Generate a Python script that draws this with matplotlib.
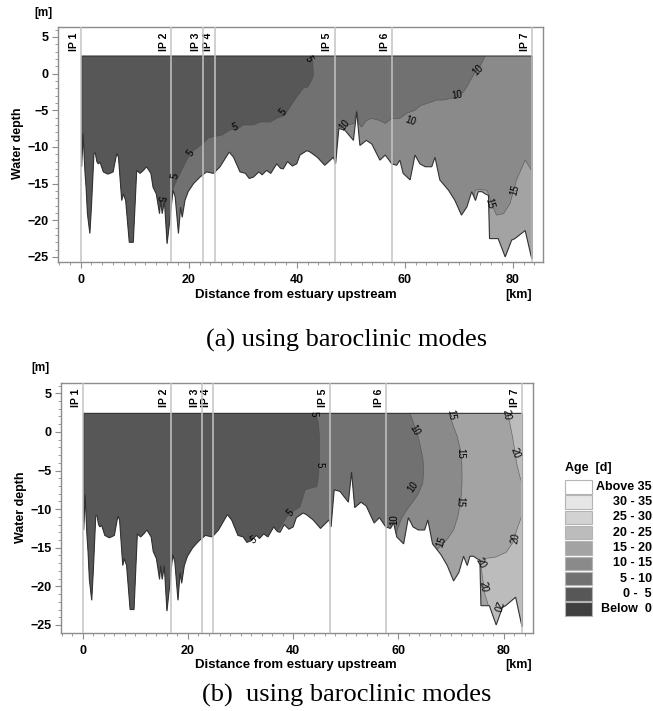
import numpy as np
import matplotlib.pyplot as plt
from matplotlib.patches import Polygon, Rectangle

plt.rcParams['font.family'] = ['Liberation Sans', 'DejaVu Sans']

# river bed profile (km upstream, m)
bed_km = [0.18, 0.45, 0.8, 1.0, 1.25, 1.7, 2.0, 2.46, 2.7, 3.0, 3.26, 3.6, 4.19, 5.0, 5.43, 6.0,
          6.67, 7.0, 7.6, 7.9, 8.33, 9.0, 9.74, 10.37, 11.0, 11.6, 12.2, 13.0, 13.4, 14.0, 14.6,
          14.8, 15.1, 15.5, 16.0, 16.5, 17.1, 17.5, 18.1, 18.5, 18.8, 19.3, 19.9, 20.9, 22.1,
          23.3, 24.6, 25.8, 27.5, 28.3, 29.5, 30.5, 31.2, 32.0, 33.0, 33.6, 34.4, 35.2, 36.3,
          37.0, 37.5, 38.3, 39.2, 40.0, 40.6, 41.9, 42.5, 43.8, 45.2, 46.8, 47.2, 47.8, 48.9,
          50.5, 51.1, 51.7, 52.9, 53.9, 55.4, 56.4, 57.6, 58.5, 59.1, 59.7, 61.0, 61.9, 62.8,
          63.8, 65.0, 65.6, 66.5, 68.1, 69.3, 70.5, 71.5, 72.4, 73.1, 73.6, 74.3, 74.9, 75.5,
          75.7, 77.3, 78.6, 79.8, 80.4, 82.3, 83.5, 83.6]
bed_m = [-12.7, -8.2, -13.5, -15.5, -19.1, -21.8, -18.0, -10.9, -10.8, -12.0, -12.3, -12.1, -13.4,
         -13.7, -13.6, -13.4, -10.9, -11.4, -17.3, -16.4, -17.3, -23.0, -23.0, -13.2, -13.6, -13.2,
         -12.7, -13.6, -15.5, -16.4, -19.1, -17.3, -19.1, -17.3, -23.2, -20.0, -15.9, -16.8, -21.8,
         -18.2, -19.6, -17.3, -16.1, -15.0, -14.1, -13.4, -13.6, -12.7, -10.7, -11.4, -13.4, -13.6,
         -14.3, -14.1, -13.4, -13.8, -13.2, -13.6, -12.3, -12.9, -13.0, -12.0, -12.6, -12.3, -11.1,
         -10.5, -10.7, -11.4, -12.5, -11.4, -12.3, -7.5, -7.7, -9.1, -5.2, -9.8, -9.1, -9.6, -11.8,
         -11.1, -12.3, -12.5, -11.8, -13.6, -14.5, -11.1, -12.3, -12.7, -12.7, -11.4, -14.5, -15.9,
         -17.3, -19.3, -18.2, -16.1, -17.3, -16.1, -16.1, -16.4, -16.6, -22.5, -22.5, -25.0, -22.7,
         -22.5, -21.4, -25.2, -25.2]
surface_m = 2.4

ip_names = ['IP 1', 'IP 2', 'IP 3', 'IP 4', 'IP 5', 'IP 6', 'IP 7']
ip_km = [0.1, 16.7, 22.6, 24.8, 47.0, 57.6, 83.6]

legend_labels = ['Above 35', '30 - 35', '25 - 30', '20 - 25', '15 - 20', '10 - 15', '5 - 10', '0 -  5', 'Below  0']
legend_colors = ['#ffffff', '#e6e6e6', '#d2d2d2', '#bcbcbc', '#a3a3a3', '#8a8a8a', '#717171', '#575757', '#3f3f3f']

# isolines panel (a)
a5_km = [43.2, 42.9, 43.1, 43.0, 42.1, 41.2, 40.0, 38.8, 37.8, 36.3, 35.1, 33.2, 32.0, 30.1, 29.2,
         27.6, 26.1, 24.6, 23.6, 22.7, 21.8, 20.9, 19.9, 19.3, 18.7, 18.1, 17.5, 17.0, 16.8, 16.7]
a5_m = [4.0, 2.4, 0.0, -0.5, -1.8, -2.0, -3.2, -4.5, -5.7, -6.1, -6.6, -6.6, -7.0, -7.0, -7.5,
        -7.7, -8.4, -8.6, -8.8, -9.5, -10.0, -10.5, -11.4, -12.3, -13.2, -14.1, -15.0, -15.9, -17.0, -30.0]
a10_km = [75.1, 74.9, 74.0, 73.0, 71.8, 70.9, 69.6, 68.4, 67.1, 65.9, 64.0, 62.8, 61.9, 60.4, 59.1,
          57.6, 56.4, 55.4, 53.9, 52.9, 52.0, 51.5, 51.1, 50.6, 49.5, 48.0, 47.5, 47.4]
a10_m = [4.0, 2.4, 1.1, 0.2, -1.4, -2.5, -3.2, -3.4, -3.6, -3.6, -4.1, -4.4, -5.0, -5.4, -6.1,
         -6.1, -6.8, -6.4, -6.1, -6.4, -7.3, -6.8, -5.0, -6.8, -7.0, -7.4, -9.0, -30.0]
a15_km = [72.7, 73.0, 73.5, 75.2, 75.6, 76.2, 77.0, 78.3, 79.5, 80.7, 82.3, 83.5, 86.0]
a15_m = [-17.5, -16.0, -15.8, -15.9, -16.6, -18.0, -19.3, -19.1, -17.7, -14.5, -11.8, -13.2, -13.2]

# isolines panel (b)
b5_km = [44.3, 44.3, 44.8, 45.0, 45.0, 44.8, 44.5, 43.2, 42.3, 41.8, 41.3, 40.0, 38.8, 37.8, 37.2, 36.8, 36.5]
b5_m = [4.0, 2.4, 1.1, -0.6, -3.6, -5.8, -7.1, -7.3, -7.5, -8.6, -9.7, -10.3, -11.0, -12.1, -12.7, -13.3, -30.0]
b10_km = [62.2, 62.2, 62.8, 63.6, 64.2, 64.7, 64.8, 64.6, 63.8, 62.8, 61.6, 60.6, 60.0, 59.7, 59.5]
b10_m = [4.0, 2.4, 1.3, -0.2, -1.9, -3.6, -5.4, -6.7, -8.0, -9.0, -10.1, -11.2, -12.3, -12.9, -30.0]
b15_km = [69.6, 69.6, 70.4, 71.2, 71.8, 72.1, 72.1, 71.9, 71.3, 70.5, 69.4, 68.2, 67.2, 67.0]
b15_m = [4.0, 2.4, 0.9, -0.6, -2.3, -4.5, -6.7, -8.8, -11.0, -12.7, -13.8, -14.7, -15.3, -30.0]
b20top_km = [80.8, 80.8, 81.2, 81.7, 82.1, 82.5, 83.1, 83.7, 86.0]
b20top_m = [4.0, 2.4, 1.1, -0.6, -2.3, -4.1, -5.8, -6.9, -6.9]
b20low_km = [86.0, 83.7, 82.7, 81.8, 80.5, 78.5, 76.5, 75.6, 75.9, 76.4, 77.4, 78.3, 78.3]
b20low_m = [-10.5, -10.5, -12.3, -14.3, -15.6, -16.2, -16.4, -16.8, -18.3, -20.9, -23.1, -24.5, -30.0]

# contour labels (text, km, m, rotation)
labels_a = [('5', 42.1, 2.0, -60), ('5', 37.5, -5.2, 50), ('5', 28.6, -7.3, 20), ('5', 20.4, -10.9, 55),
            ('5', 17.5, -13.9, 80), ('5', 14.7, -17.0, -100), ('10', 73.6, 0.45, 45), ('10', 69.6, -2.95, 10),
            ('10', 61.0, -6.4, -20), ('10', 48.9, -7.0, 50), ('15', 80.4, -15.9, 75), ('15', 75.8, -17.7, -75)]
labels_b = [('5', 43.8, 2.3, -90), ('5', 45.0, -4.3, -90), ('5', 39.4, -10.5, 45), ('5', 32.4, -14.0, 30),
            ('10', 63.1, 0.25, -60), ('10', 62.8, -7.1, 55), ('10', 59.3, -11.4, 90),
            ('15', 70.1, 2.2, -80), ('15', 71.7, -2.8, -90), ('15', 71.7, -9.0, -95), ('15', 68.2, -14.2, 70),
            ('20', 80.5, 2.2, -80), ('20', 82.3, -2.8, -70), ('20', 82.3, -13.8, 80),
            ('20', 75.7, -17.0, -60), ('20', 76.1, -20.0, -80), ('20', 78.6, -22.6, -110)]


def zone_polygon(xs, zs, side):
    pts = list(zip(xs, zs))
    if side == 'left':
        pts += [(-10, zs[-1]), (-10, zs[0])]
    elif side == 'right':
        pts += [(100, zs[-1]), (100, zs[0])]
    else:  # below
        pts += [(xs[-1], -30), (xs[0], -30)]
    return pts


def draw_panel(ax, base_color, zones, labels, ylim):
    water = [(bed_km[0], surface_m)] + [(bed_km[-1], surface_m)] + list(zip(bed_km[::-1], bed_m[::-1]))
    wpatch = Polygon(water, closed=True, facecolor=base_color, edgecolor='none', zorder=1)
    ax.add_patch(wpatch)
    for xs, zs, side, col in zones:
        p = Polygon(zone_polygon(xs, zs, side), closed=True, facecolor=col, edgecolor='none', zorder=2)
        ax.add_patch(p)
        p.set_clip_path(wpatch)
        ln, = ax.plot(xs, zs, color='#4a4a4a', lw=0.5, alpha=0.7, zorder=3)
        ln.set_clip_path(wpatch)
    ax.add_patch(Polygon(water, closed=True, fill=False, edgecolor='#333333', lw=0.8, zorder=4))
    for t, x, z, r in labels:
        ax.text(x, z, t, rotation=r, fontsize=7, ha='center', va='center', zorder=6, color='black')
    for name, x in zip(ip_names, ip_km):
        ax.axvline(x, color='#c4c4c4', lw=1.1, zorder=5)
        ax.annotate(name, (x, ylim[1]), xytext=(-1.5, -4), textcoords='offset points',
                    rotation=90, ha='right', va='top', fontsize=7.5, fontweight='bold')
    ax.set_xlim(-4.2, 85.6)
    ax.set_ylim(*ylim)
    ax.set_xticks([0, 20, 40, 60, 80])
    ax.set_xticks(np.arange(-4, 86, 2), minor=True)
    ax.set_yticks([5, 0, -5, -10, -15, -20, -25])
    ax.set_yticks(np.arange(-25, 7, 1), minor=True)
    for s in ax.spines.values():
        s.set_color('#8c8c8c')
        s.set_linewidth(1.0)
    ax.tick_params(which='major', direction='out', length=4, width=0.8, color='#8c8c8c', labelsize=9)
    ax.tick_params(which='minor', direction='out', length=2, width=0.6, color='#8c8c8c')
    ax.tick_params(axis='x', pad=5)
    ax.tick_params(axis='y', pad=2.5)
    for lab in ax.get_xticklabels() + ax.get_yticklabels():
        lab.set_fontweight('bold')


fig = plt.figure(figsize=(6.53, 7.11), dpi=100)
W, H = 653.0, 711.0

ax_a = fig.add_axes([58 / W, 1 - 261.7 / H, 485 / W, 234.7 / H])
zones_a = [(a15_km, a15_m, 'below', legend_colors[4]),
           (a10_km, a10_m, 'left', legend_colors[6]),
           (a5_km, a5_m, 'left', legend_colors[7])]
draw_panel(ax_a, legend_colors[5], zones_a, labels_a, (-25.65, 6.36))

ax_b = fig.add_axes([60.7 / W, 1 - 632.7 / H, 472.3 / W, 250 / H])
zones_b = [(b20top_km, b20top_m, 'right', legend_colors[3]),
           (b20low_km, b20low_m, 'right', legend_colors[3]),
           (b15_km, b15_m, 'left', legend_colors[5]),
           (b10_km, b10_m, 'left', legend_colors[6]),
           (b5_km, b5_m, 'left', legend_colors[7])]
draw_panel(ax_b, legend_colors[4], zones_b, labels_b, (-26.0, 6.37))

# axis texts
for ym, yd, yx, yc, ycap, cap in [(13, 143, 295, 18, 340, '(a) using baroclinic modes'),
                                  (368, 507, 665, 21, 695, '(b)  using baroclinic modes')]:
    fig.text(43 / W if ym < 100 else 40 / W, 1 - ym / H, '[m]', ha='center', va='center',
             fontsize=8.5, fontweight='bold')
    fig.text(yc / W, 1 - yd / H, 'Water depth', rotation=90, ha='center', va='center',
             fontsize=9, fontweight='bold')
    fig.text(296 / W, 1 - yx / H, 'Distance from estuary upstream', ha='center', va='center',
             fontsize=9.5, fontweight='bold')
    fig.text(519 / W, 1 - yx / H, '[km]', ha='center', va='center', fontsize=9, fontweight='bold')
    fig.text(347 / W, 1 - ycap / H, cap, ha='center', va='center', fontsize=19,
             family='Liberation Serif')

# legend
fig.text(565 / W, 1 - 468 / H, 'Age  [d]', ha='left', va='center', fontsize=9, fontweight='bold')
for i, (lab, col) in enumerate(zip(legend_labels, legend_colors)):
    top = 480 + i * 15.3
    fig.patches.append(Rectangle((565 / W, 1 - (top + 13.5) / H), 27 / W, 13.5 / H,
                                 transform=fig.transFigure, facecolor=col, edgecolor='#b4b4b4', lw=0.8))
    fig.text(652 / W, 1 - (top + 6.75) / H, lab, ha='right', va='center', fontsize=9, fontweight='bold')

fig.savefig('out.png', dpi=100)
